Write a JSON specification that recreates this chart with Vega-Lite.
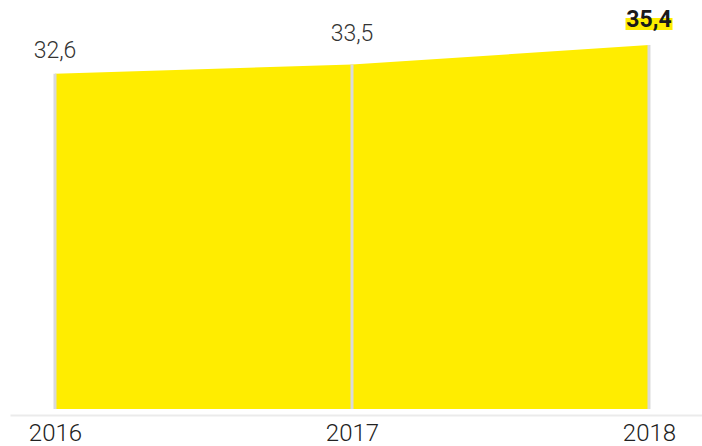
{
  "$schema": "https://vega.github.io/schema/vega-lite/v6.json",
  "autosize": {"type": "none"},
  "width": 692,
  "height": 364,
  "padding": {"left": 10, "top": 45, "right": 0, "bottom": 37},
  "background": "#ffffff",
  "config": {
    "view": {"stroke": null},
    "locale": {"number": {"decimal": ",", "thousands": ".", "grouping": [3], "currency": ["", " €"]}},
    "font": "Roboto"
  },
  "data": {"values": [
    {"year": 2016, "value": 32.6},
    {"year": 2017, "value": 33.5},
    {"year": 2018, "value": 35.4}
  ]},
  "encoding": {
    "x": {
      "field": "year", "type": "quantitative",
      "scale": {"domain": [2015.8485, 2018.1785], "nice": false, "zero": false},
      "axis": {
        "values": [2016, 2017, 2018], "format": "d", "title": null,
        "ticks": false, "grid": false, "offset": 6,
        "domainColor": "#ebebeb", "domainWidth": 2,
        "labelFont": "Roboto", "labelFontWeight": 300, "labelFontSize": 24,
        "labelColor": "#222222", "labelPadding": 25, "labelBaseline": "alphabetic",
        "labelFlush": false
      }
    },
    "y": {
      "field": "value", "type": "quantitative",
      "scale": {"domain": [0, 35.4], "nice": false, "zero": true},
      "axis": null
    }
  },
  "layer": [
    {"mark": {"type": "area", "color": "#FFED00", "interpolate": "linear"},
     "encoding": {"y2": {"datum": 0}}},
    {"mark": {"type": "rule", "color": "#dadada", "strokeWidth": 3},
     "encoding": {"y2": {"datum": 0}}},
    {"transform": [{"filter": "datum.year == 2016"}],
     "mark": {"type": "text", "fontSize": 23, "fontWeight": 300, "color": "#333333", "dy": -16, "baseline": "alphabetic", "align": "center"},
     "encoding": {"text": {"field": "value", "type": "quantitative", "format": ".1f"}}},
    {"transform": [{"filter": "datum.year == 2017"}],
     "mark": {"type": "text", "fontSize": 23, "fontWeight": 300, "color": "#333333", "dy": -24, "baseline": "alphabetic", "align": "center"},
     "encoding": {"text": {"field": "value", "type": "quantitative", "format": ".1f"}}},
    {"transform": [{"filter": "datum.year == 2018"}],
     "mark": {"type": "point", "shape": "M-1,-0.255H1V0.255H-1Z", "size": 2209, "filled": true, "opacity": 1, "color": "#FFED00", "strokeWidth": 0, "yOffset": -21}},
    {"transform": [{"filter": "datum.year == 2018"}],
     "mark": {"type": "text", "fontSize": 23, "fontWeight": "bold", "color": "#1a1a1a", "dy": -18, "baseline": "alphabetic", "align": "center"},
     "encoding": {"text": {"field": "value", "type": "quantitative", "format": ".1f"}}}
  ]
}
